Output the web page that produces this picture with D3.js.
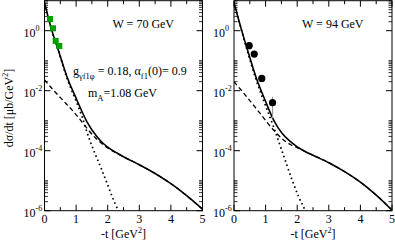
<!DOCTYPE html>
<html>
<head>
<meta charset="utf-8">
<title>dsigma/dt f1 photoproduction</title>
<script src="https://cdn.jsdelivr.net/npm/d3@7/dist/d3.min.js"></script>
<style>
body { margin: 0; background: #fff; }
text { font-family: "Liberation Serif", "Times New Roman", serif; fill: #000; }
</style>
</head>
<body>
<script>
// -t values [GeV^2] and dsigma/dt [mub/GeV^2]
// W = 70 GeV
var t70Solid = [0, 0.23, 0.44, 0.70, 1.02, 1.34, 1.65, 1.86, 2.0, 2.28, 2.5, 3.0, 3.5, 4.0, 4.5, 5.0];
var y70Solid = [8.51, 1.047, 0.219, 0.0316, 5.01e-3, 9.33e-4, 3.02e-4, 1.74e-4, 1.32e-4, 8.51e-5, 6.31e-5, 3.39e-5, 1.74e-5, 7.94e-6, 3.16e-6, 1.12e-6];
var t70Dash = [0, 0.28, 0.70, 1.02, 1.34, 1.6, 1.8, 2.0, 2.28, 2.5, 3.0, 3.5, 4.0, 4.5, 5.0];
var y70Dash = [2.29e-2, 1.05e-2, 3.55e-3, 1.51e-3, 5.62e-4, 2.75e-4, 1.78e-4, 1.23e-4, 8.32e-5, 6.31e-5, 3.39e-5, 1.74e-5, 7.94e-6, 3.16e-6, 1.12e-6];
var t70Dot = [0, 0.23, 0.44, 0.70, 1.02, 1.2, 1.35, 1.6, 1.8, 1.97, 2.13, 2.34, 2.42];
var y70Dot = [8.5, 1.0, 0.219, 0.0282, 3.98e-3, 1.26e-3, 3.98e-4, 7.9e-5, 2.5e-5, 8.7e-6, 3.16e-6, 1.0e-6, 7.1e-7];
var t70Data = [0.174, 0.27, 0.354, 0.468];
var y70Data = [2.45, 1.2, 0.457, 0.309];

// W = 94 GeV
var t94Solid = [0, 0.24, 0.45, 0.72, 0.98, 1.25, 1.52, 1.79, 2.0, 2.21, 2.5, 3.0, 3.5, 4.0, 4.5, 5.0];
var y94Solid = [8.51, 1.047, 0.191, 0.024, 4.9e-3, 1.07e-3, 3.8e-4, 2.0e-4, 1.35e-4, 1.0e-4, 7.08e-5, 3.98e-5, 2.0e-5, 8.91e-6, 3.31e-6, 1.05e-6];
var t94Dash = [0, 0.40, 0.82, 1.25, 1.57, 1.8, 2.0, 2.21, 2.5, 3.0, 3.5, 4.0, 4.5, 5.0];
var y94Dash = [2.0e-2, 6.31e-3, 1.78e-3, 4.9e-4, 2.29e-4, 1.58e-4, 1.26e-4, 9.77e-5, 7.08e-5, 3.98e-5, 2.0e-5, 8.91e-6, 3.31e-6, 1.05e-6];
var t94Dot = [0, 0.24, 0.45, 0.72, 0.98, 1.25, 1.5, 1.84, 2.04, 2.25, 2.3];
var y94Dot = [8.5, 1.0, 0.166, 0.02, 3.55e-3, 6.3e-4, 1.12e-4, 1.05e-5, 3.0e-6, 1.0e-6, 7.1e-7];
var t94Data = [0.48, 0.64, 0.88, 1.22];
var y94Data = [0.316, 0.166, 0.0257, 3.98e-3];
var e94Lo = [0.28, 0.15, 0.023, 1.2e-3];
var e94Hi = [0.36, 0.18, 0.029, 6.3e-3];

var xTicks = [0, 1, 2, 3, 4, 5];
var xMinor = [0.5, 1.5, 2.5, 3.5, 4.5];
var yExp = [0, -2, -4, -6];

var width = 395, height = 243;
var top_ = 0.7, bottom = 210.7;

var svg = d3.select("body").append("svg")
  .attr("width", width).attr("height", height);

function zip(a, b) { return a.map(function(v, i) { return [v, b[i]]; }); }

function panel(id, x0, x1, c) {
  var x = d3.scaleLinear().domain([0, 5]).range([x0, x1]);
  var y = d3.scaleLog().domain([1e-6, 1e1]).range([bottom, top_]);
  var g = svg.append("g");

  g.append("clipPath").attr("id", "clip" + id)
    .append("rect").attr("x", x0).attr("y", top_).attr("width", x1 - x0).attr("height", bottom - top_);

  var line = d3.line()
    .x(function(d) { return x(d[0]); })
    .y(function(d) { return y(d[1]); })
    .curve(d3.curveMonotoneX);

  var cg = g.append("g").attr("clip-path", "url(#clip" + id + ")");
  cg.append("path").datum(zip(c.tDot, c.yDot)).attr("d", line)
    .attr("fill", "none").attr("stroke", "#000").attr("stroke-width", 1.7)
    .attr("stroke-dasharray", "1.6,3");
  cg.append("path").datum(zip(c.tDash, c.yDash)).attr("d", line)
    .attr("fill", "none").attr("stroke", "#000").attr("stroke-width", 1.3)
    .attr("stroke-dasharray", "4.5,3");
  cg.append("path").datum(zip(c.tSolid, c.ySolid)).attr("d", line)
    .attr("fill", "none").attr("stroke", "#000").attr("stroke-width", 1.6);

  // frame
  g.append("rect").attr("x", x0).attr("y", top_).attr("width", x1 - x0).attr("height", bottom - top_)
    .attr("fill", "none").attr("stroke", "#000").attr("stroke-width", 1);

  // x ticks (bottom and top, inward)
  xTicks.forEach(function(v) {
    g.append("line").attr("x1", x(v)).attr("x2", x(v)).attr("y1", bottom).attr("y2", bottom - 6).attr("stroke", "#000");
    g.append("line").attr("x1", x(v)).attr("x2", x(v)).attr("y1", top_).attr("y2", top_ + 6).attr("stroke", "#000");
    g.append("text").attr("x", x(v)).attr("y", 222.5).attr("text-anchor", "middle")
      .attr("font-size", "12px").text(v);
  });
  xMinor.forEach(function(v) {
    g.append("line").attr("x1", x(v)).attr("x2", x(v)).attr("y1", bottom).attr("y2", bottom - 3.5).attr("stroke", "#000");
    g.append("line").attr("x1", x(v)).attr("x2", x(v)).attr("y1", top_).attr("y2", top_ + 3.5).attr("stroke", "#000");
  });

  // y ticks (left and right, inward)
  yExp.forEach(function(e) {
    var yy = y(Math.pow(10, e));
    g.append("line").attr("x1", x0).attr("x2", x0 + 6).attr("y1", yy).attr("y2", yy).attr("stroke", "#000");
    g.append("line").attr("x1", x1).attr("x2", x1 - 6).attr("y1", yy).attr("y2", yy).attr("stroke", "#000");
    g.append("text").attr("x", x0 - 9).attr("y", yy + 6).attr("text-anchor", "end")
      .attr("font-size", "12px").text("10");
    g.append("text").attr("x", x0 - 9).attr("y", yy + 0.5)
      .attr("font-size", "8px").text(e === 0 ? "0" : "-" + (-e));
    for (var k = 2; k <= 10; k++) {
      var ym = y(k * Math.pow(10, e));
      if (ym < top_) continue;
      g.append("line").attr("x1", x0).attr("x2", x0 + 3.5).attr("y1", ym).attr("y2", ym).attr("stroke", "#000").attr("stroke-width", 0.8);
      g.append("line").attr("x1", x1).attr("x2", x1 - 3.5).attr("y1", ym).attr("y2", ym).attr("stroke", "#000").attr("stroke-width", 0.8);
    }
  });

  // x label
  var xl = g.append("text").attr("x", (x0 + x1) / 2).attr("y", 237.5).attr("text-anchor", "middle")
    .attr("font-size", "12px");
  xl.append("tspan").text("-t [GeV");
  xl.append("tspan").attr("font-size", "8px").attr("dy", -5).text("2");
  xl.append("tspan").attr("dy", 5).text("]");

  g.append("text").attr("x", x0 + 68).attr("y", 27.5).attr("font-size", "12px").text(c.title);

  return { x: x, y: y, g: g };
}

var p1 = panel(1, 44.5, 202.5, {
  tSolid: t70Solid, ySolid: y70Solid, tDash: t70Dash, yDash: y70Dash,
  tDot: t70Dot, yDot: y70Dot, title: "W = 70 GeV"
});
var p2 = panel(2, 234, 392, {
  tSolid: t94Solid, ySolid: y94Solid, tDash: t94Dash, yDash: y94Dash,
  tDot: t94Dot, yDot: y94Dot, title: "W = 94 GeV"
});

// W = 70 data (green squares)
p1.g.append("g").selectAll("rect")
  .data(zip(t70Data, y70Data))
  .enter().append("rect")
  .attr("x", function(d) { return p1.x(d[0]) - 3; })
  .attr("y", function(d) { return p1.y(d[1]) - 3; })
  .attr("width", 6).attr("height", 6)
  .attr("fill", "#00a000");

// W = 94 data (black circles with error bars)
p2.g.append("g").selectAll("line")
  .data(t94Data.map(function(t, i) { return [t, e94Lo[i], e94Hi[i]]; }))
  .enter().append("line")
  .attr("x1", function(d) { return p2.x(d[0]); })
  .attr("x2", function(d) { return p2.x(d[0]); })
  .attr("y1", function(d) { return p2.y(d[1]); })
  .attr("y2", function(d) { return p2.y(d[2]); })
  .attr("stroke", "#999").attr("stroke-width", 1.2);
p2.g.append("g").selectAll("circle")
  .data(zip(t94Data, y94Data))
  .enter().append("circle")
  .attr("cx", function(d) { return p2.x(d[0]); })
  .attr("cy", function(d) { return p2.y(d[1]); })
  .attr("r", 3.6).attr("fill", "#000");

// parameter texts
var pt = svg.append("text").attr("x", 73).attr("y", 75).attr("font-size", "12px");
pt.append("tspan").text("g");
pt.append("tspan").attr("font-size", "8.5px").attr("dy", 4).text("\u03b3f1\u03c6");
pt.append("tspan").attr("dy", -4).text(" = 0.18, \u03b1");
pt.append("tspan").attr("font-size", "8.5px").attr("dy", 4).text("f1");
pt.append("tspan").attr("dy", -4).text("(0)= 0.9");

var mt = svg.append("text").attr("x", 88).attr("y", 97).attr("font-size", "12px");
mt.append("tspan").text("m");
mt.append("tspan").attr("font-size", "8.5px").attr("dy", 4).text("A");
mt.append("tspan").attr("dy", -4).text("=1.08 GeV");

// y label
var yl = svg.append("text").attr("transform", "translate(13,108) rotate(-90)")
  .attr("text-anchor", "middle").attr("font-size", "12px");
yl.append("tspan").text("d\u03c3/dt [\u03bcb/GeV");
yl.append("tspan").attr("font-size", "8px").attr("dy", -5).text("2");
yl.append("tspan").attr("dy", 5).text("]");
</script>
</body>
</html>
